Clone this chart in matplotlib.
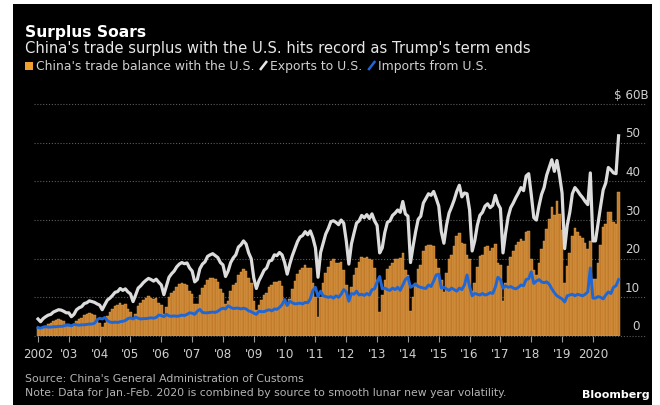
import matplotlib
matplotlib.use("Agg")
import matplotlib.pyplot as plt
import matplotlib.transforms as mtransforms
from matplotlib.patches import Rectangle
from matplotlib.lines import Line2D

plt.rcParams['font.family'] = ['DejaVu Sans']

# ---------------- data (monthly, Jan 2002 - Nov 2020, $ billions) ----------------
start_year = 2002
exports = [
    4.4, 3.7, 4.5, 5.0, 5.4, 5.6, 6.2, 6.5, 6.8, 6.7, 6.4, 6.0,            # 2002
    6.0, 5.0, 5.6, 6.8, 7.3, 7.6, 8.4, 8.6, 9.1, 8.9, 8.7, 8.3,            # 2003
    8.0, 6.8, 8.1, 9.3, 9.8, 10.5, 11.3, 11.5, 12.3, 11.8, 12.2, 11.4,     # 2004
    10.9, 8.9, 10.6, 12.4, 13.0, 13.8, 14.4, 14.9, 14.6, 14.2, 14.7, 13.9, # 2005
    13.2, 10.7, 13.0, 15.2, 16.1, 16.8, 17.9, 18.6, 19.0, 18.7, 18.9, 17.6,# 2006
    16.8, 14.0, 14.6, 17.4, 18.6, 19.2, 20.6, 21.0, 21.3, 20.8, 20.3, 19.0,# 2007
    18.4, 15.4, 16.8, 19.0, 20.2, 21.0, 23.0, 23.6, 24.6, 23.8, 21.5, 20.0,# 2008
    15.0, 12.3, 14.3, 15.6, 17.0, 17.6, 19.4, 19.6, 21.0, 20.8, 21.6, 21.0,# 2009
    19.0, 16.0, 18.6, 20.8, 22.6, 24.4, 25.6, 26.0, 27.0, 26.2, 27.2, 25.4,# 2010
    22.8, 15.2, 21.6, 24.0, 26.4, 27.8, 29.6, 29.8, 29.4, 28.8, 30.0, 29.2,# 2011
    24.6, 18.6, 23.8, 26.6, 29.2, 29.8, 31.2, 30.6, 31.4, 30.4, 31.6, 29.8,# 2012
    28.6, 21.5, 22.8, 26.8, 29.4, 29.8, 31.2, 31.8, 32.6, 32.0, 34.8, 31.6,# 2013
    31.0, 19.0, 23.2, 27.0, 30.2, 31.0, 34.4, 35.6, 36.8, 36.4, 37.4, 35.6,# 2014
    33.6, 27.0, 24.0, 28.6, 31.8, 33.4, 35.2, 37.4, 39.0, 36.0, 37.0, 36.8,# 2015
    32.6, 22.0, 24.6, 28.6, 31.2, 32.0, 33.6, 34.2, 33.2, 33.8, 36.4, 34.2,# 2016
    33.0, 21.5, 26.6, 30.8, 33.2, 34.4, 35.8, 37.0, 38.4, 37.6, 41.4, 42.0,# 2017
    36.6, 30.6, 30.0, 33.6, 36.6, 38.4, 41.6, 43.6, 45.6, 42.6, 45.4, 41.6,# 2018
    37.0, 22.6, 28.6, 32.0, 36.8, 38.4, 37.6, 36.6, 35.8, 34.8, 34.0, 42.2,# 2019
    24.6, 24.6, 29.2, 33.6, 37.8, 39.6, 43.6, 43.0, 42.2, 42.0, 51.8,      # 2020
]
imports = [
    2.2, 2.0, 2.3, 2.4, 2.3, 2.3, 2.4, 2.4, 2.5, 2.5, 2.6, 2.8,
    2.8, 2.6, 3.0, 2.9, 2.8, 2.9, 2.9, 3.0, 3.1, 3.1, 3.3, 4.2,
    4.6, 4.4, 4.8, 4.0, 3.6, 3.5, 3.6, 3.5, 3.7, 3.8, 4.0, 4.5,
    4.7, 4.4, 4.9, 4.6, 4.4, 4.5, 4.5, 4.6, 4.7, 4.6, 4.8, 5.4,
    5.3, 5.0, 5.6, 5.2, 5.1, 5.2, 5.1, 5.2, 5.4, 5.3, 5.6, 6.0,
    5.9, 5.6, 6.4, 6.9, 6.1, 6.0, 6.0, 6.1, 6.2, 6.1, 6.4, 6.9,
    7.2, 7.0, 7.8, 7.4, 7.1, 7.2, 7.2, 7.0, 7.2, 7.0, 6.5, 6.3,
    5.9, 5.6, 6.4, 6.3, 6.3, 6.6, 6.8, 6.5, 7.0, 6.9, 7.4, 8.1,
    9.4, 7.9, 9.0, 8.6, 8.3, 8.4, 8.5, 8.3, 8.7, 8.6, 9.6, 11.8,
    12.6, 10.2, 11.6, 10.4, 10.2, 10.0, 10.2, 9.8, 10.4, 10.0, 10.8, 12.0,
    11.4, 9.0, 11.0, 10.8, 11.6, 10.6, 10.8, 10.5, 11.0, 10.6, 12.0, 12.2,
    14.0, 15.4, 12.2, 12.4, 12.0, 11.8, 12.4, 12.0, 12.6, 11.8, 13.2, 14.6,
    15.2, 12.6, 13.0, 13.4, 12.8, 12.6, 12.4, 12.3, 13.2, 12.8, 14.2, 15.8,
    16.0, 12.4, 12.6, 12.2, 11.8, 12.4, 12.0, 11.6, 12.4, 12.0, 13.2, 15.8,
    12.8, 10.4, 11.0, 10.8, 10.6, 11.0, 10.6, 10.8, 11.2, 11.0, 12.6, 15.2,
    14.6, 12.4, 13.0, 12.6, 12.8, 12.4, 12.2, 12.6, 13.2, 13.0, 14.6, 14.8,
    16.6, 13.6, 14.2, 14.6, 14.0, 13.8, 14.0, 13.4, 12.2, 11.2, 10.4, 10.0,
    9.6, 8.8, 10.4, 10.6, 10.8, 10.4, 10.8, 10.6, 10.4, 10.8, 11.4, 17.6,
    9.8, 9.8, 10.2, 10.0, 9.6, 10.6, 11.4, 11.0, 12.6, 13.0, 14.6,
]
balance = [
    2.2, 1.7, 2.2, 2.6, 3.1, 3.3, 3.8, 4.1, 4.3, 4.2, 3.8, 3.2,
    3.2, 2.4, 2.6, 3.9, 4.5, 4.7, 5.5, 5.6, 6.0, 5.8, 5.4, 4.1,
    3.4, 2.4, 3.3, 5.3, 6.2, 7.0, 7.7, 8.0, 8.6, 8.0, 8.2, 6.9,
    6.2, 4.5, 5.7, 7.8, 8.6, 9.3, 9.9, 10.3, 9.9, 9.6, 9.9, 8.5,
    7.9, 5.7, 7.4, 10.0, 11.0, 11.6, 12.8, 13.4, 13.6, 13.4, 13.3, 11.6,
    10.9, 8.4, 8.2, 10.5, 12.5, 13.2, 14.6, 14.9, 15.1, 14.7, 13.9, 12.1,
    11.2, 8.4, 9.0, 11.6, 13.1, 13.8, 15.8, 16.6, 17.4, 16.8, 15.0, 13.7,
    9.1, 6.7, 7.9, 9.3, 10.7, 11.0, 12.6, 13.1, 14.0, 13.9, 14.2, 12.9,
    9.6, 8.1, 9.6, 12.2, 14.3, 16.0, 17.1, 17.7, 18.3, 17.6, 17.6, 13.6,
    10.2, 5.0, 10.0, 13.6, 16.2, 17.8, 19.4, 20.0, 19.0, 18.8, 19.2, 17.2,
    13.2, 9.6, 12.8, 15.8, 17.6, 19.2, 20.4, 20.1, 20.4, 19.8, 19.6, 17.6,
    14.6, 6.1, 10.6, 14.4, 17.4, 18.0, 18.8, 19.8, 20.0, 20.2, 21.6, 17.0,
    15.8, 6.4, 10.2, 13.6, 17.4, 18.4, 22.0, 23.3, 23.6, 23.6, 23.2, 19.8,
    17.6, 14.6, 11.4, 16.4, 20.0, 21.0, 23.2, 25.8, 26.6, 24.0, 23.8, 21.0,
    19.8, 11.6, 13.6, 17.8, 20.6, 21.0, 23.0, 23.4, 22.0, 22.8, 23.8, 19.0,
    18.4, 9.1, 13.6, 18.2, 20.4, 22.0, 23.6, 24.4, 25.2, 24.6, 26.8, 27.2,
    20.0, 17.0, 15.8, 19.0, 22.6, 24.6, 27.6, 30.2, 33.4, 31.4, 35.0, 31.6,
    27.4, 13.8, 18.2, 21.4, 26.0, 28.0, 26.8, 26.0, 25.4, 24.0, 22.6, 24.6,
    14.8, 14.8, 19.0, 23.6, 28.2, 29.0, 32.2, 32.0, 29.6, 29.0, 37.2,
]
year_labels = ["2002", "'03", "'04", "'05", "'06", "'07", "'08", "'09", "'10",
               "'11", "'12", "'13", "'14", "'15", "'16", "'17", "'18", "'19", "2020"]
y_ticks = [0, 10, 20, 30, 40, 50, 60]
y_tick_labels = ["0", "10", "20", "30", "40", "50", "$ 60B"]

title = "Surplus Soars"
subtitle = "China's trade surplus with the U.S. hits record as Trump's term ends"
legend_labels = ["China's trade balance with the U.S.", "Exports to U.S.", "Imports from U.S."]
source_text = "Source: China's General Administration of Customs"
note_text = "Note: Data for Jan.-Feb. 2020 is combined by source to smooth lunar new year volatility."

# ---------------- style ----------------
ORANGE = '#c27a2b'
ORANGE_EDGE = '#e3a653'
WHITE_LINE = '#dcdcdc'
BLUE = '#1f67d6'
TXT = '#d0d0d0'
GRID = '#5c5c5c'

W, H = 660, 406
def fx(px): return px / W
def fy(py): return 1 - py / H

fig = plt.figure(figsize=(W / 100, H / 100), dpi=100)
fig.patch.set_facecolor('white')
fig.add_artist(Rectangle((fx(13), 0), fx(652) - fx(13), fy(5), transform=fig.transFigure,
                         facecolor='black', edgecolor='none', zorder=0))

# axes geometry (pixels)
X0, DX = 38.0, 2.569     # x pixel of month 0, pixels per month
Y0, DY = 337.0, 3.865    # y pixel of value 0, pixels per unit
AL, AR, AT, AB = 34, 645, 101, 337
ax = fig.add_axes([fx(AL), fy(AB), fx(AR) - fx(AL), fy(AT) - fy(AB)])
ax.set_facecolor('none')
ax.set_xlim((AL - X0) / DX, (AR - X0) / DX)
ax.set_ylim(0, (AB - AT) / DY)
for s in ax.spines.values():
    s.set_visible(False)

months = list(range(len(exports)))

for t in y_ticks:
    ax.axhline(t, color=GRID, lw=0.8, ls=(0, (1, 1.6)), zorder=0.5, clip_on=False)

ax.bar(months, balance, width=1.0, color=ORANGE, edgecolor=ORANGE_EDGE, linewidth=0.3, zorder=2)
ax.plot(months, exports, color=WHITE_LINE, lw=2.3, zorder=3, solid_joinstyle='round')
ax.plot(months, imports, color=BLUE, lw=2.1, zorder=4, solid_joinstyle='round')

ax.set_xticks([12 * k for k in range(len(year_labels))])
ax.set_xticklabels(year_labels)
ax.tick_params(axis='x', length=4, width=0.8, color='#9a9a9a', labelcolor=TXT,
               labelsize=8.6, pad=4)
ax.set_yticks([])

trans = mtransforms.blended_transform_factory(fig.transFigure, ax.transData)
for t, lab in zip(y_ticks, y_tick_labels):
    xr = fx(649) if lab.startswith('$') else fx(640)
    ax.text(xr, t + 10 / DY, lab, transform=trans, ha='right', va='center',
            color=TXT, fontsize=8.6, clip_on=False)

# ---------------- header ----------------
fig.text(fx(25), fy(37.5), title, fontsize=11.2, fontweight='bold', color='white', va='baseline')
fig.text(fx(25), fy(53.5), subtitle, fontsize=10.6, color='#e8e8e8', va='baseline')

renderer = fig.canvas.get_renderer()
ly = 70
fig.add_artist(Rectangle((fx(25), fy(70.5)), fx(7.5), 7.5 / H, transform=fig.transFigure,
                         facecolor='#f0a030', edgecolor='none'))
xpos = 35.5
for i, lab in enumerate(legend_labels):
    if i > 0:
        col = '#e8e8e8' if i == 1 else BLUE
        fig.add_artist(Line2D([fx(xpos), fx(xpos + 7)], [fy(71), fy(62)], transform=fig.transFigure,
                              color=col, lw=1.8, solid_capstyle='butt'))
        xpos += 10
    tt = fig.text(fx(xpos), fy(ly), lab, fontsize=8.9, color=TXT, va='baseline')
    bb = tt.get_window_extent(renderer=renderer)
    xpos += bb.width + 6

# ---------------- footer ----------------
fig.text(fx(25), fy(379), source_text, fontsize=7.8, color='#b4b4b4', va='center')
fig.text(fx(25), fy(393), note_text, fontsize=7.8, color='#b4b4b4', va='center')
fig.text(fx(650), fy(395), 'Bloomberg', fontsize=8, fontweight='bold', color='white',
         ha='right', va='center')

fig.savefig('out.png', dpi=100, facecolor=fig.get_facecolor())
